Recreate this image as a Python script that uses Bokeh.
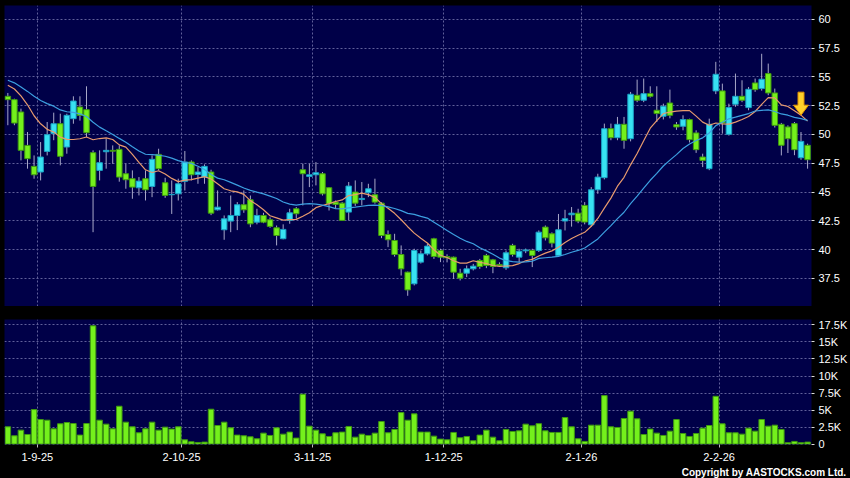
from bokeh.plotting import figure
from bokeh.layouts import column
from bokeh.models import Range1d, FixedTicker, Title, ColumnDataSource
from bokeh.embed import file_html
from bokeh.resources import INLINE
import pandas as pd

# ---------------- data ----------------
opens = [53.31, 53.02, 51.95, 49.05, 47.23, 46.74, 48.53, 50.07, 50.93, 48.91,
         51.37, 52.38, 52.15, 48.42, 46.88, 48.50, 48.62, 48.71, 46.59, 46.16,
         45.37, 46.16, 45.49, 48.27, 45.81, 44.77, 44.85, 45.93, 47.61, 46.53,
         46.30, 46.74, 43.46, 41.73, 42.48, 42.97, 43.90, 44.33, 42.39, 42.97,
         42.60, 41.90, 40.95, 42.54, 43.55, 46.94, 46.36, 46.50, 46.59, 45.38,
         44.13, 44.04, 43.26, 45.00, 44.35, 44.94, 44.77, 44.04, 41.32, 40.80,
         39.58, 38.05, 37.04, 38.92, 39.64, 40.95, 39.93, 39.41, 39.35, 37.96,
         37.96, 38.34, 39.06, 39.50, 39.12, 38.72, 38.43, 40.37, 39.35, 39.90,
         39.93, 39.93, 41.96, 41.38, 39.50, 42.49, 43.03, 43.17, 43.84, 42.16,
         45.20, 46.25, 50.50, 49.72, 50.88, 49.63, 53.40, 52.97, 53.54, 52.10,
         51.58, 52.73, 50.85, 50.71, 51.29, 50.13, 48.04, 47.03, 53.78, 53.78,
         50.01, 52.62, 53.31, 52.33, 54.47, 53.98, 55.28, 53.60, 50.88, 50.65,
         50.94, 47.98, 49.06]
highs = [53.60, 53.10, 52.24, 50.21, 48.18, 49.34, 51.08, 51.89, 51.80, 51.80,
         53.31, 53.31, 54.18, 48.62, 48.62, 49.63, 49.05, 49.05, 47.46, 46.88,
         46.30, 46.88, 48.18, 48.76, 46.24, 46.01, 46.16, 48.56, 47.75, 47.17,
         47.40, 46.94, 45.14, 42.97, 44.70, 44.13, 45.14, 44.70, 43.55, 43.20,
         42.80, 42.10, 42.20, 43.55, 43.70, 47.46, 47.46, 47.60, 46.74, 45.43,
         44.27, 44.13, 45.87, 46.01, 45.87, 45.72, 46.16, 44.13, 41.67, 41.38,
         40.37, 38.10, 40.08, 39.93, 40.51, 41.03, 40.08, 39.60, 39.40, 38.34,
         38.63, 38.77, 39.20, 39.64, 39.20, 38.90, 39.93, 40.51, 40.08, 40.10,
         40.08, 41.67, 42.10, 41.50, 43.10, 43.46, 43.70, 43.55, 44.13, 45.43,
         46.59, 50.94, 50.94, 51.52, 51.52, 53.69, 54.76, 54.85, 54.18, 54.18,
         52.67, 53.89, 51.08, 51.66, 51.37, 50.36, 48.33, 51.37, 56.30, 54.41,
         52.67, 55.28, 54.70, 54.12, 54.85, 57.00, 56.15, 53.98, 51.00, 50.79,
         51.08, 50.21, 49.20]
lows = [50.80, 50.80, 47.75, 47.03, 46.16, 46.01, 48.18, 49.50, 47.32, 48.33,
        50.93, 51.20, 49.78, 41.52, 46.01, 47.03, 47.46, 45.90, 45.29, 44.42,
        44.71, 44.27, 44.56, 46.90, 44.50, 43.10, 44.27, 45.14, 46.01, 45.72,
        45.72, 43.00, 43.40, 40.86, 41.52, 41.70, 43.20, 41.95, 42.20, 42.30,
        41.90, 40.37, 40.90, 42.25, 42.70, 43.84, 45.43, 45.58, 44.70, 43.40,
        43.55, 42.50, 42.54, 43.80, 43.84, 44.56, 43.99, 41.00, 40.22, 39.40,
        37.76, 36.00, 36.90, 38.80, 39.50, 39.20, 38.92, 38.90, 37.47, 37.33,
        37.62, 38.20, 38.34, 38.40, 37.96, 38.50, 38.25, 39.40, 38.92, 39.70,
        38.49, 39.80, 40.80, 40.20, 39.40, 41.67, 42.00, 42.30, 42.20, 42.00,
        44.85, 46.10, 49.50, 49.50, 48.76, 49.40, 52.80, 52.80, 53.20, 51.08,
        51.30, 51.40, 50.40, 50.36, 49.30, 48.40, 47.17, 46.90, 53.50, 50.07,
        49.90, 52.40, 52.80, 52.10, 53.70, 53.80, 53.40, 50.60, 48.18, 48.39,
        48.20, 47.80, 47.03]
closes = [53.02, 50.99, 48.62, 47.90, 46.50, 48.04, 49.98, 50.93, 48.10, 51.66,
          52.90, 51.66, 50.15, 45.49, 47.55, 48.62, 48.55, 46.30, 46.07, 45.43,
          45.95, 45.20, 47.84, 47.03, 44.71, 44.80, 45.72, 47.61, 46.50, 46.74,
          47.23, 43.17, 43.69, 42.68, 42.97, 43.90, 43.46, 42.24, 42.97, 42.39,
          42.02, 41.23, 41.76, 43.20, 43.12, 46.59, 46.50, 46.68, 44.85, 43.99,
          43.93, 42.54, 45.52, 44.04, 44.45, 45.29, 44.13, 41.23, 40.86, 39.58,
          38.34, 36.51, 39.93, 39.64, 40.31, 39.41, 39.35, 39.30, 38.05, 37.53,
          38.34, 38.57, 38.54, 38.63, 38.54, 38.63, 39.73, 39.58, 39.87, 39.98,
          39.50, 41.52, 41.03, 40.57, 41.73, 42.69, 43.17, 42.48, 42.40, 45.20,
          46.30, 50.50, 49.72, 50.88, 49.49, 53.49, 52.97, 53.54, 53.31, 51.81,
          52.44, 51.66, 50.65, 51.29, 49.55, 48.68, 47.75, 50.88, 55.22, 50.99,
          52.33, 53.31, 52.97, 53.92, 53.89, 54.79, 53.60, 50.79, 49.06, 49.63,
          48.68, 49.40, 47.81]
volumes = [2540, 1220, 2050, 1410, 5070, 3610, 3510, 2240, 2980, 3170,
           3020, 1320, 3020, 17370, 3510, 2930, 2240, 5560, 3220, 2540,
           1660, 2240, 3220, 2050, 2490, 2200, 2540, 630, 340, 240,
           290, 5120, 2730, 3220, 2390, 1320, 1220, 1070, 780, 1610,
           1270, 2390, 1460, 1760, 880, 7320, 2630, 2050, 1510, 1120,
           1660, 1760, 2590, 1020, 1460, 1270, 1610, 3320, 1660, 2150,
           4630, 3510, 4440, 1760, 1760, 1170, 730, 630, 1710, 930,
           1120, 490, 1320, 2050, 1020, 490, 2150, 1850, 1950, 2930,
           2680, 3000, 1950, 1710, 1710, 3900, 2540, 780, 390, 2780,
           2780, 7120, 2540, 2440, 3760, 4830, 3710, 1410, 2200, 1610,
           1270, 1900, 3610, 1560, 1120, 1560, 2340, 2730, 7020, 2980,
           1660, 1660, 1460, 2340, 1900, 3610, 2630, 2780, 2150, 200,
           390, 200, 290]
# closes before the visible window (estimated from where the MA lines start)
prior_closes = [55.4, 55.8, 55.6, 55.0, 55.2, 55.6, 55.3, 54.6, 54.8, 54.1,
                54.2, 54.6, 55.6, 56.0, 55.0, 54.8, 53.2, 52.6, 53.6]

date_tick_index = [4, 26, 46, 66, 87, 108]
date_tick_labels = ["1-9-25", "2-10-25", "3-11-25", "1-12-25", "2-1-26", "2-2-26"]
price_ticks = [37.5, 40, 42.5, 45, 47.5, 50, 52.5, 55, 57.5, 60]
price_tick_labels = ["37.5", "40", "42.5", "45", "47.5", "50", "52.5", "55", "57.5", "60"]
vol_ticks = [0, 2500, 5000, 7500, 10000, 12500, 15000, 17500]
vol_tick_labels = ["0", "2.5K", "5K", "7.5K", "10K", "12.5K", "15K", "17.5K"]

# ---------------- derived ----------------
n = len(closes)
xs = list(range(n))
allc = pd.Series(prior_closes + closes)
ma10 = allc.rolling(10).mean().iloc[len(prior_closes):].tolist()
ma20 = allc.rolling(20).mean().iloc[len(prior_closes):].tolist()

BG = "#000048"
GRID = "#60609A"
CYAN, CYAN_E = "#38E2F2", "#1A9FC4"
GREEN, GREEN_E = "#74F01C", "#3F9A10"
WICK = "#A8A8C8"
FONT = "Liberation Sans"

up = [c >= o for o, c in zip(opens, closes)]
src = ColumnDataSource(dict(
    x=xs, h=highs, l=lows,
    top=[max(o, c) for o, c in zip(opens, closes)],
    bottom=[min(o, c) for o, c in zip(opens, closes)],
    fill=[CYAN if u else GREEN for u in up],
    edge=[CYAN_E if u else GREEN_E for u in up],
))

date_pos = [i + 0.5 for i in date_tick_index]
X0, X1 = -0.51, n - 0.4
Y0, Y1 = 35.07, 61.19
xr = Range1d(X0, X1)

def style_common(p):
    p.background_fill_color = BG
    p.border_fill_color = "black"
    p.outline_line_color = None
    p.xgrid.ticker = FixedTicker(ticks=date_pos)
    for g in (p.xgrid, p.ygrid):
        g.grid_line_color = GRID
        g.grid_line_dash = "2 2"
        g.grid_line_width = 1
    ax = p.yaxis[0]
    ax.axis_line_color = None
    ax.major_tick_line_color = "#DDDDDD"
    ax.major_tick_out = 3
    ax.major_tick_in = 0
    ax.minor_tick_line_color = None
    ax.major_label_text_color = "white"
    ax.major_label_text_font = FONT
    ax.major_label_text_font_size = "11px"
    ax.major_label_standoff = 4

W = 850
FRAME_W, FRAME_H = W - 4 - 39, 301
# ---------------- price panel ----------------
p1 = figure(width=W, height=306, x_range=xr, y_range=Range1d(Y0, Y1),
            y_axis_location="right", toolbar_location=None, tools="",
            output_backend="svg", min_border_left=4, min_border_right=39,
            min_border_top=5, min_border_bottom=0)
p1.xaxis.visible = False
style_common(p1)
p1.yaxis[0].ticker = FixedTicker(ticks=price_ticks)
p1.yaxis[0].major_label_overrides = dict(zip(price_ticks, price_tick_labels))
p1.ygrid.ticker = FixedTicker(ticks=price_ticks)

p1.segment(x0="x", y0="l", x1="x", y1="h", source=src, line_color=WICK, line_width=1)
p1.vbar(x="x", width=0.84, top="top", bottom="bottom", source=src,
        fill_color="fill", line_color="edge", line_width=1)
p1.line(xs, ma10, line_color="#E79A6E", line_width=1.2)
p1.line(xs, ma20, line_color="#3C9FE0", line_width=1.2)

# signal arrow pointing down at the 10-day MA of the last-but-one session
ai = n - 2
ax_u = (X1 - X0) / FRAME_W          # data units per pixel (x)
ay_u = (Y1 - Y0) / FRAME_H          # data units per pixel (y)
tx, ty = ai, ma10[ai]
hw, hh, sw, sl = 7.5 * ax_u, 10 * ay_u, 3 * ax_u, 13 * ay_u
p1.patch([tx - sw, tx + sw, tx + sw, tx + hw, tx, tx - hw, tx - sw],
         [ty + hh + sl, ty + hh + sl, ty + hh, ty + hh, ty, ty + hh, ty + hh],
         fill_color="#FFD02A", line_color="#E09000", line_width=1)

# ---------------- volume panel ----------------
p2 = figure(width=W, height=172, x_range=xr, y_range=Range1d(-60, 18300),
            y_axis_location="right", toolbar_location=None, tools="",
            output_backend="svg", min_border_left=4, min_border_right=39,
            min_border_top=13, min_border_bottom=0)
style_common(p2)
p2.yaxis[0].ticker = FixedTicker(ticks=vol_ticks)
p2.yaxis[0].major_label_overrides = dict(zip(vol_ticks, vol_tick_labels))
p2.ygrid.ticker = FixedTicker(ticks=vol_ticks)
xa = p2.xaxis[0]
xa.ticker = FixedTicker(ticks=date_pos)
xa.major_label_overrides = dict(zip(date_pos, date_tick_labels))
xa.axis_line_color = None
xa.major_tick_line_color = "#BBBBBB"
xa.major_tick_out = 3
xa.major_tick_in = 0
xa.minor_tick_line_color = None
xa.major_label_text_color = "white"
xa.major_label_text_font = FONT
xa.major_label_text_font_size = "11px"
xa.major_label_standoff = 5

p2.vbar(x=xs, top=volumes, bottom=0, width=0.84, fill_color=GREEN, line_color=GREEN_E, line_width=1)

p2.add_layout(Title(text="Copyright by AASTOCKS.com Ltd.", align="right", text_color="white",
                    text_font=FONT, text_font_size="10px", text_font_style="bold",
                    standoff=2, offset=-35), "below")

layout = column(p1, p2, spacing=0, styles={"background-color": "black"})
html = file_html(layout, INLINE)
html = html.replace("<body>", '<body style="background-color:#000000;">', 1)
open("out.html", "w").write(html)
